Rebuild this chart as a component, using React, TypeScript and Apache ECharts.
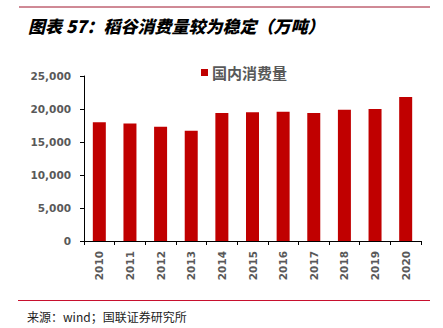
import React, { useEffect, useRef } from "react";
import * as echarts from "echarts";

const years = ["2010", "2011", "2012", "2013", "2014", "2015", "2016", "2017", "2018", "2019", "2020"];
const consumption = [18000, 17800, 17300, 16700, 19400, 19500, 19600, 19400, 19900, 20000, 21800];
const seriesName = "国内消费量";
const titleText = "图表 57：稻谷消费量较为稳定（万吨）";
const sourceText = "来源：wind；国联证券研究所";

export default function App() {
  const ref = useRef<HTMLDivElement>(null);
  useEffect(() => {
    if (!ref.current) return;
    const chart = echarts.init(ref.current, undefined, { renderer: "svg" });
    chart.setOption({
      animation: false,
      backgroundColor: "#ffffff",
      grid: { left: 84, right: 22, top: 76, bottom: 87, containLabel: false },
      legend: {
        left: 196,
        top: 60,
        itemWidth: 7,
        itemHeight: 7,
        itemGap: 4,
        icon: "rect",
        data: [seriesName],
        textStyle: { fontSize: 15, fontWeight: "bold", color: "#595959", fontFamily: "Noto Sans CJK SC", padding: [0, 0, 0, -1] },
      },
      xAxis: {
        type: "category",
        data: years,
        axisLine: { show: true, lineStyle: { color: "#000", width: 1 } },
        axisTick: { show: true, length: 4, lineStyle: { color: "#000" } },
        axisLabel: {
          rotate: 90,
          margin: 10,
          color: "#595959",
          fontSize: 10.5,
          fontWeight: "bold",
          fontFamily: "DejaVu Sans",
        },
      },
      yAxis: {
        type: "value",
        min: 0,
        max: 25000,
        interval: 5000,
        axisLine: { show: true, lineStyle: { color: "#000", width: 1 } },
        axisTick: { show: true, length: 4, lineStyle: { color: "#000" } },
        splitLine: { show: false },
        axisLabel: {
          margin: 13,
          color: "#595959",
          fontSize: 10.5,
          fontWeight: "bold",
          fontFamily: "DejaVu Sans",
          formatter: (v: number) => v.toLocaleString("en-US"),
        },
      },
      series: [
        {
          name: seriesName,
          type: "bar",
          data: consumption,
          barWidth: 13,
          itemStyle: { color: "#c00000" },
        },
      ],
      graphic: [
        { type: "line", shape: { x1: 19, y1: 7, x2: 430, y2: 7 }, style: { stroke: "#a0142c", lineWidth: 1 } },
        {
          type: "text",
          x: 28,
          y: 25,
          style: {
            text: titleText,
            font: "italic 900 17px 'Noto Sans CJK SC'",
            fill: "#000",
            textVerticalAlign: "middle",
          },
        },
        { type: "line", shape: { x1: 18, y1: 300.5, x2: 430, y2: 300.5 }, style: { stroke: "#c8102e", lineWidth: 1 } },
        {
          type: "text",
          x: 27,
          y: 316,
          style: {
            text: sourceText,
            font: "12px 'Noto Sans CJK SC'",
            fill: "#222",
            textVerticalAlign: "middle",
          },
        },
      ],
    });
    return () => chart.dispose();
  }, []);
  return <div ref={ref} style={{ width: 443, height: 328, position: "absolute", left: 0, top: 0 }} />;
}
